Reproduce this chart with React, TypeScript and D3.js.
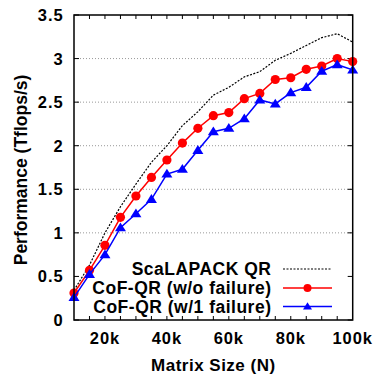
import React from "react";
import * as d3 from "d3";

const sizes = [10, 15, 20, 25, 30, 35, 40, 45, 50, 55, 60, 65, 70, 75, 80, 85, 90, 95, 100];
const scalapack = [0.34, 0.63, 1.0, 1.3, 1.56, 1.81, 2.0, 2.23, 2.39, 2.58, 2.67, 2.79, 2.85, 2.98, 3.06, 3.15, 3.24, 3.285, 3.19];
const cofNoFail = [0.31, 0.57, 0.857, 1.178, 1.423, 1.636, 1.836, 2.03, 2.2, 2.345, 2.38, 2.54, 2.6, 2.76, 2.78, 2.877, 2.915, 3.0, 2.965];
const cofFail = [0.26, 0.524, 0.75, 1.06, 1.22, 1.385, 1.675, 1.73, 1.947, 2.16, 2.2, 2.31, 2.525, 2.48, 2.61, 2.67, 2.855, 2.93, 2.87];
const yTicks = [0, 0.5, 1, 1.5, 2, 2.5, 3, 3.5];
const yTickLabels = ["0", "0.5", "1", "1.5", "2", "2.5", "3", "3.5"];
const xLabelTicks = [20, 40, 60, 80, 100];
const xLabelTexts = ["20k", "40k", "60k", "80k", "100k"];
const xMinorTicks = [15, 20, 25, 30, 35, 40, 45, 50, 55, 60, 65, 70, 75, 80, 85, 90, 95];
const legendLabels = ["ScaLAPACK QR", "CoF-QR (w/o failure)", "CoF-QR (w/1 failure)"];

const W = 377, H = 374;
const L = 74, R = 352.7, T = 15, B = 320;
const FONT = "'Liberation Sans', Arial, sans-serif";

export default function App() {
  const x = d3.scaleLinear().domain([10, 100]).range([L, R]);
  const y = d3.scaleLinear().domain([0, 3.5]).range([B, T]);
  const line = d3.line<number>().x((_, i) => x(sizes[i])).y((d) => y(d));
  const tri = (cx: number, cy: number, s: number) =>
    `M${cx},${cy - s * 0.95}L${cx + s},${cy + s * 0.65}L${cx - s},${cy + s * 0.65}Z`;

  const legY = [269, 288, 306.5];
  const legX0 = 283, legX1 = 332, legTextX = 271.5;

  return (
    <svg width={W} height={H} style={{ position: "absolute", left: 0, top: 0, background: "#fff" }} fontFamily={FONT} fontWeight="bold">
      <rect x={0} y={0} width={W} height={H} fill="#fff" />
      {/* grid */}
      {yTicks.filter((t) => t > 0 && t < 3.5 && t !== 0.5).map((t) => (
        <line key={"g" + t} x1={L} x2={R} y1={y(t)} y2={y(t)} stroke="#999" strokeWidth={1} strokeDasharray="1,2" />
      ))}
      {/* y ticks */}
      {yTicks.map((t) => (
        <g key={"yt" + t}>
          <line x1={L} x2={L + 5} y1={y(t)} y2={y(t)} stroke="#000" strokeWidth={1} />
          <line x1={R} x2={R - 5} y1={y(t)} y2={y(t)} stroke="#000" strokeWidth={1} />
        </g>
      ))}
      {yTicks.map((t, i) => (
        <text key={"yl" + t} x={63.5} y={y(t) + 6} textAnchor="end" fontSize={16.5} letterSpacing={0.9} fill="#000">{yTickLabels[i]}</text>
      ))}
      {/* x ticks */}
      {xMinorTicks.map((t) => (
        <g key={"xt" + t}>
          <line x1={x(t)} x2={x(t)} y1={B} y2={B - 4} stroke="#000" strokeWidth={1} />
          <line x1={x(t)} x2={x(t)} y1={T} y2={T + 4} stroke="#000" strokeWidth={1} />
        </g>
      ))}
      {xLabelTicks.map((t, i) => (
        <text key={"xl" + t} x={x(t)} y={343.5} textAnchor="middle" fontSize={16.5} letterSpacing={0.9} fill="#000">{xLabelTexts[i]}</text>
      ))}
      {/* axis titles */}
      <text x={(L + R) / 2} y={370.5} textAnchor="middle" fontSize={17} letterSpacing={0.5} fill="#000">Matrix Size (N)</text>
      <text transform={`translate(27,170) rotate(-90)`} textAnchor="middle" fontSize={17.5} fill="#000">Performance (Tflops/s)</text>

      {/* series */}
      <path d={line(scalapack) || ""} fill="none" stroke="#000" strokeWidth={1.2} strokeDasharray="2,1.5" />
      <path d={line(cofNoFail) || ""} fill="none" stroke="#ff0000" strokeWidth={1.5} />
      {cofNoFail.map((v, i) => (
        <circle key={"c" + i} cx={x(sizes[i])} cy={y(v)} r={4.6} fill="#ff0000" />
      ))}
      <path d={line(cofFail) || ""} fill="none" stroke="#0000ff" strokeWidth={1.5} />
      {cofFail.map((v, i) => (
        <path key={"t" + i} d={tri(x(sizes[i]), y(v), 5.5)} fill="#0000ff" />
      ))}

      {/* legend */}
      {legendLabels.map((lab, i) => (
        <text key={"lg" + i} x={legTextX} y={legY[i] + 6.2} textAnchor="end" fontSize={17.5} letterSpacing={0.5} fill="#000">{lab}</text>
      ))}
      <line x1={legX0} x2={legX1} y1={legY[0]} y2={legY[0]} stroke="#000" strokeWidth={1.2} strokeDasharray="2,1.5" />
      <line x1={legX0} x2={legX1} y1={legY[1]} y2={legY[1]} stroke="#ff0000" strokeWidth={1.5} />
      <circle cx={(legX0 + legX1) / 2} cy={legY[1]} r={4} fill="#ff0000" />
      <line x1={legX0} x2={legX1} y1={legY[2]} y2={legY[2]} stroke="#0000ff" strokeWidth={1.5} />
      <path d={tri((legX0 + legX1) / 2, legY[2], 4.5)} fill="#0000ff" />

      {/* frame */}
      <rect x={L} y={T} width={R - L} height={B - T} fill="none" stroke="#000" strokeWidth={1.5} />
    </svg>
  );
}
